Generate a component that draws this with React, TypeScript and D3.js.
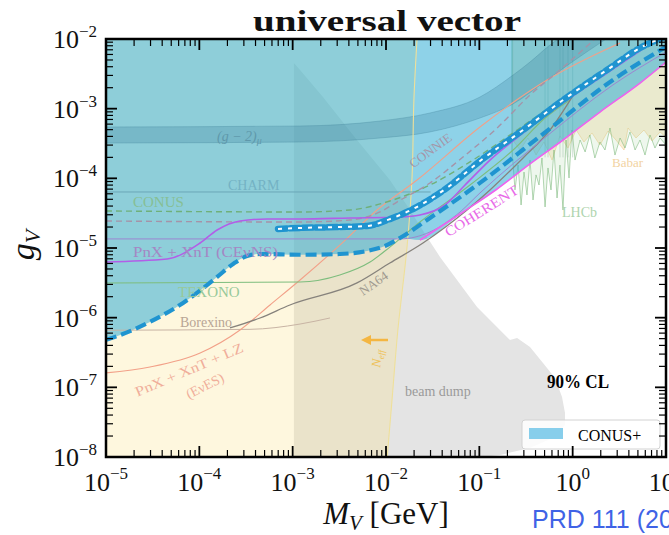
import React from "react";
import * as d3 from "d3";

type Pt = [number, number]; // [M_V in GeV, g_V]

const MASS_RANGE: Pt = [1e-5, 10];
const COUPLING_RANGE: Pt = [1e-8, 1e-2];
const massExponents = [-5, -4, -3, -2, -1, 0, 1];
const couplingExponents = [-8, -7, -6, -5, -4, -3, -2];

// CONUS+ 90% CL exclusion limit
const conusPlusLimit: Pt[] = [
  [1e-5, 4.8e-7], [1.81e-5, 6.4e-7], [2.96e-5, 8.7e-7], [6.7e-5, 1.63e-6],
  [1.55e-4, 3.84e-6], [2.3e-4, 5.9e-6], [3.25e-4, 7.7e-6], [4.47e-4, 8.2e-6],
  [1.2e-3, 8.0e-6], [3.2e-3, 8.2e-6], [6.25e-3, 9.06e-6], [9.75e-3, 1.07e-5],
  [1.41e-2, 1.39e-5], [2.96e-2, 2.7e-5], [0.1016, 8.6e-5], [0.531, 4.8e-4],
  [2.7, 2.58e-3], [10, 7.7e-3],
];

// narrow band drawn with the blue/white dashes
const conusPlusBand: Pt[] = [
  [6.97e-4, 1.88e-5], [1.2e-3, 1.94e-5], [3.2e-3, 2.0e-5], [6.25e-3, 2.07e-5],
  [1.1e-2, 2.6e-5], [1.95e-2, 3.63e-5], [4.5e-2, 7.3e-5], [0.1016, 1.77e-4],
  [0.294, 4.94e-4], [0.789, 1.33e-3], [2.33, 3.59e-3], [5.27, 7.43e-3], [10, 1.1e-2],
];

const coherentLimit: Pt[] = [
  [2.31e-2, 1.3e-5], [6.68e-2, 3.29e-5], [0.155, 7.03e-5], [0.349, 1.61e-4],
  [0.789, 3.55e-4], [1.96, 8.95e-4], [5.27, 2.33e-3], [10, 4.67e-3],
];

const gm2Upper: Pt[] = [
  [1e-5, 5.46e-4], [1.2e-3, 5.64e-4], [8.63e-3, 6.65e-4], [2.96e-2, 8.67e-4],
  [0.1016, 1.47e-3], [0.23, 3.04e-3], [0.349, 4.67e-3], [0.571, 8.2e-3], [0.697, 1e-2],
];
const gm2Lower: Pt[] = [
  [1e-5, 3.21e-4], [1.2e-3, 3.32e-4], [8.63e-3, 3.79e-4], [2.96e-2, 4.63e-4],
  [0.1016, 7.34e-4], [0.23, 1.17e-3], [0.531, 2.58e-3], [1.06, 5.0e-3], [2.28, 1e-2],
];

const beamDump: Pt[] = [
  [1.03e-3, 1e-8], [1.03e-3, 4.53e-3], [1.2e-3, 3.59e-3], [2.11e-3, 1.47e-3],
  [4.89e-3, 3.55e-4], [1.1e-2, 9.46e-5], [1.81e-2, 3.51e-5], [2.75e-2, 1.44e-5],
  [3.79e-2, 7.43e-6], [5.77e-2, 3.47e-6], [9.45e-2, 1.42e-6], [0.13, 9.27e-7],
  [0.188, 5.64e-7], [0.213, 4.78e-7], [0.254, 5.11e-7], [0.349, 3.79e-7],
  [0.481, 2.23e-7], [0.647, 1.36e-7], [0.769, 7.27e-8], [0.828, 4.28e-8],
  [0.828, 2.88e-8], [0.647, 1.94e-8], [0.349, 1.35e-8], [0.167, 1.07e-8], [0.107, 1e-8],
];

const neffEdge: Pt[] = [
  [2.15e-2, 1e-2], [1.99e-2, 1.33e-3], [1.9e-2, 1.01e-4], [1.68e-2, 1.03e-5],
  [1.34e-2, 6.65e-7], [1.16e-2, 6.58e-8], [1.03e-2, 1e-8],
];

const charmLimit: Pt[] = [[1e-5, 6.37e-5], [3e-2, 6.37e-5]];
const conusLimit: Pt[] = [
  [1e-5, 3.4e-5], [1.2e-3, 3.29e-5], [4.11e-3, 3.51e-5], [1.1e-2, 4.73e-5],
  [2.96e-2, 8.02e-5], [7.94e-2, 1.72e-4], [0.273, 5.28e-4], [0.731, 1.33e-3],
];
const connieLimit: Pt[] = [
  [1e-5, 2.44e-5], [1.2e-3, 2.36e-5], [4.11e-3, 2.52e-5], [8.63e-3, 3.29e-5],
  [1.31e-2, 4.57e-5], [2.96e-2, 8.57e-5], [6.68e-2, 2.02e-4], [0.155, 5.28e-4],
  [0.349, 1.57e-3], [0.731, 3.59e-3], [1.73, 1e-2],
];
const cevnsLimit: Pt[] = [
  [1e-5, 6.3e-6], [4.51e-5, 6.95e-6], [1.02e-4, 1.18e-5], [1.55e-4, 1.81e-5],
  [2.73e-4, 2.44e-5], [5.31e-4, 2.61e-5], [1.2e-3, 2.61e-5], [4.11e-3, 2.7e-5],
  [1.41e-2, 2.79e-5], [2.31e-2, 2.98e-5], [4.28e-2, 4.14e-5], [7.03e-2, 8.02e-5],
  [0.13, 1.83e-4], [0.294, 4.48e-4], [0.789, 1.21e-3], [2.33, 3.25e-3], [6.75, 8.48e-3],
];
const cevnsAltLimit: Pt[] = [
  [1e-5, 1.35e-5], [1.41e-2, 1.35e-5], [2.96e-2, 1.7e-5], [6.21e-2, 3.29e-5],
  [0.1016, 6.17e-5], [0.531, 4.06e-4], [2.7, 2.19e-3], [10, 6.5e-3],
];
const texonoLimit: Pt[] = [
  [1e-5, 3.15e-6], [1.2e-3, 3.25e-6], [3.2e-3, 4.1e-6], [6.75e-3, 6.3e-6],
  [1.1e-2, 1.03e-5], [2.31e-2, 2.36e-5], [7.94e-2, 8.02e-5], [0.23, 2.55e-4],
  [0.506, 7.34e-4], [0.935, 1.33e-3],
];
const na64Limit: Pt[] = [
  [2.13e-4, 7.11e-7], [4.47e-4, 9.89e-7], [9.35e-4, 1.52e-6], [4.89e-3, 3.15e-6],
  [1.1e-2, 6.09e-6], [2.49e-2, 1.18e-5], [7.38e-2, 3.51e-5], [0.13, 6.81e-5],
  [0.294, 1.96e-4], [0.571, 4.94e-4], [1.0, 1.52e-3],
];
const borexinoLimit: Pt[] = [[1e-5, 6.6e-7], [3.49e-4, 6.8e-7], [1.2e-3, 8.1e-7], [2.51e-3, 9.9e-7]];
const evesLimit: Pt[] = [
  [1e-5, 1.61e-7], [2.96e-5, 1.96e-7], [1.02e-4, 3.11e-7], [2.73e-4, 6.65e-7],
  [5.72e-4, 1.52e-6], [1.2e-3, 3.47e-6], [3.2e-3, 1.1e-5], [8.02e-3, 3.51e-5],
  [2.15e-2, 9.46e-5], [0.1016, 5.46e-4], [0.531, 2.58e-3], [3.22, 8.77e-3],
];

const lhcbEdge: Pt[] = [
  [0.224, 2.55e-4], [0.241, 6.81e-5], [0.26, 1.55e-4], [0.28, 4.14e-5], [0.301, 1.23e-4],
  [0.324, 5.77e-5], [0.349, 1.83e-4], [0.376, 4.89e-5], [0.405, 1.12e-4], [0.436, 8.02e-5],
  [0.469, 1.96e-4], [0.506, 3.88e-5], [0.544, 1.41e-4], [0.586, 6.81e-5], [0.631, 2.55e-4],
  [0.68, 5.22e-5], [0.731, 1.55e-4], [0.788, 3.51e-5], [0.849, 3.55e-4], [0.914, 1.01e-4],
  [0.984, 4.94e-4], [1.06, 1.83e-4], [1.2, 3.55e-4], [1.36, 2.39e-4], [1.53, 4.19e-4],
  [1.73, 1.96e-4], [1.96, 3.32e-4], [2.22, 2.55e-4], [2.51, 5.28e-4], [2.84, 2.16e-4],
  [3.22, 3.79e-4], [3.64, 2.72e-4], [4.11, 4.62e-4], [4.66, 2.55e-4], [5.27, 3.55e-4],
  [5.96, 2.16e-4], [6.74, 4.19e-4], [7.62, 2.72e-4], [8.63, 3.79e-4], [10, 3.01e-4],
];
const babarEdge: Pt[] = [
  [0.228, 3.55e-4], [0.273, 2.55e-4], [0.332, 3.79e-4], [0.405, 2.16e-4], [0.493, 3.32e-4],
  [0.601, 1.83e-4], [0.731, 4.06e-4], [0.891, 2.72e-4], [1.09, 4.94e-4], [1.32, 3.32e-4],
  [1.61, 4.48e-4], [1.96, 3.01e-4], [2.39, 4.78e-4], [2.91, 3.55e-4], [3.55, 2.55e-4],
  [3.92, 5.28e-4], [4.77, 3.79e-4], [5.81, 4.94e-4], [7.08, 3.44e-4], [8.63, 4.62e-4], [10, 3.92e-4],
];
const resonanceMasses = [0.224, 0.506, 0.544, 0.731, 0.788, 0.891, 1.0];

const SERIF = "'Liberation Serif', 'DejaVu Serif', serif";
const W = 669;
const H = 535;
const LEFT = 106;
const RIGHT = 666;
const TOP = 39;
const BOTTOM = 457;

const xs = d3.scaleLog().domain(MASS_RANGE).range([LEFT, RIGHT]);
const ys = d3.scaleLog().domain(COUPLING_RANGE).range([BOTTOM, TOP]);

const smooth = d3.line<Pt>().x((d) => xs(d[0])).y((d) => ys(d[1])).curve(d3.curveMonotoneX);
const curved = d3.line<Pt>().x((d) => xs(d[0])).y((d) => ys(d[1])).curve(d3.curveCatmullRom.alpha(0.5));
const straight = d3.line<Pt>().x((d) => xs(d[0])).y((d) => ys(d[1]));
const cont = (s: string | null) => (s ?? "").replace(/^M/, "L");

const sup = (e: number) => (e < 0 ? "\u2212" + -e : String(e));

export default function App() {
  const xTicks = xs.ticks();
  const yTicks = ys.ticks();
  const isMajor = (v: number) => Math.abs(Math.log10(v) - Math.round(Math.log10(v))) < 1e-6;

  const cyanPath =
    smooth([...conusPlusLimit.filter((p) => p[0] <= 0.0141), ...coherentLimit]) +
    `L${xs(10)},${ys(1e-2)}L${xs(1e-5)},${ys(1e-2)}Z`;
  const gm2Path = smooth(gm2Lower) + cont(smooth([...gm2Upper].reverse())) + "Z";
  const neffPath =
    `M${xs(1e-5)},${ys(1e-2)}` + cont(curved(neffEdge)) + `L${xs(1e-5)},${ys(1e-8)}Z`;
  const lhcbPath =
    `M${xs(lhcbEdge[0][0])},${ys(1e-2)}` + cont(straight(lhcbEdge)) + `L${xs(10)},${ys(1e-2)}Z`;
  const babarPath =
    `M${xs(babarEdge[0][0])},${ys(1e-2)}` + cont(straight(babarEdge)) + `L${xs(10)},${ys(1e-2)}Z`;

  const thinLines: { pts: Pt[]; color: string; w: number; dash?: string }[] = [
    { pts: charmLimit, color: "#6aa6b8", w: 1 },
    { pts: borexinoLimit, color: "#c8b4a4", w: 1 },
    { pts: evesLimit, color: "#f2a088", w: 1.1 },
    { pts: texonoLimit, color: "#7dbd7d", w: 1.1 },
    { pts: na64Limit, color: "#86827c", w: 1.3 },
    { pts: conusLimit, color: "#6fb07a", w: 1.4, dash: "6 4" },
    { pts: connieLimit, color: "#a593a8", w: 1.4, dash: "6 4" },
    { pts: cevnsAltLimit, color: "#9c86d0", w: 1 },
    { pts: cevnsLimit, color: "#b25ee8", w: 1.6 },
    { pts: coherentLimit, color: "#ee62ee", w: 1.6 },
  ];

  return (
    <svg width={W} height={H} style={{ position: "absolute", left: 0, top: 0, background: "#fff" }}>
      <defs>
        <clipPath id="plotArea">
          <rect x={LEFT} y={TOP} width={RIGHT - LEFT} height={BOTTOM - TOP} />
        </clipPath>
        <marker id="arrowHead" viewBox="0 0 10 10" refX="5" refY="5" markerWidth="4" markerHeight="4" orient="auto">
          <path d="M0,0L10,5L0,10Z" fill="#f4b642" />
        </marker>
      </defs>

      <rect x={LEFT} y={TOP} width={RIGHT - LEFT} height={BOTTOM - TOP} fill="#fff" />

      <g clipPath="url(#plotArea)">
        <path d={straight(beamDump) + "Z"} fill="#e4e4e4" />
        <path d={babarPath} fill="#f6d9a0" fillOpacity={0.4} stroke="#f0c27a" strokeWidth={0.6} strokeOpacity={0.8} />
        <path d={lhcbPath} fill="#9fd09a" fillOpacity={0.18} stroke="#68ae68" strokeWidth={0.7} strokeOpacity={0.7} />
        {resonanceMasses.map((m) => (
          <line key={m} x1={xs(m)} x2={xs(m)} y1={ys(1e-2)} y2={ys(2e-4)} stroke="#7aa88a" strokeOpacity={0.35} strokeWidth={1} />
        ))}
        <path d={neffPath} fill="#fbdf7b" fillOpacity={0.25} />
        <path d={cyanPath} fill="#32add5" fillOpacity={0.55} />
        <path d={gm2Path} fill="#286e8c" fillOpacity={0.22} stroke="#3f8098" strokeOpacity={0.3} strokeWidth={1} />
        <path d={curved(neffEdge) ?? ""} fill="none" stroke="#efe09a" strokeWidth={1.1} />

        {thinLines.map((l, i) => (
          <path key={i} d={smooth(l.pts) ?? ""} fill="none" stroke={l.color} strokeWidth={l.w} strokeDasharray={l.dash} />
        ))}

        <path d={smooth(conusPlusLimit) ?? ""} fill="none" stroke="#1f94d0" strokeWidth={4.2} strokeDasharray="11 5" />
        <path d={smooth(conusPlusBand) ?? ""} fill="none" stroke="#1f94d0" strokeWidth={6.5} strokeDasharray="9 3.5" strokeLinecap="round" />
        <path d={smooth(conusPlusBand) ?? ""} fill="none" stroke="#ffffff" strokeWidth={2} strokeDasharray="4 6" />

        {/* curve labels */}
        <g fontFamily={SERIF}>
          <text x={217} y={141} fontSize={14} fill="#5f98ab" fontStyle="italic">
            (g − 2)<tspan fontSize={10} dy={3}>μ</tspan>
          </text>
          <text x={228} y={190} fontSize={14} fill="#74b2c4">CHARM</text>
          <text x={133} y={207} fontSize={15} fill="#86bf95">CONUS</text>
          <text x={133} y={257} fontSize={15} fill="#a487c4" textLength={145} lengthAdjust="spacingAndGlyphs">PnX + XnT (CEνNS)</text>
          <text x={178} y={297} fontSize={15} fill="#98c99a">TEXONO</text>
          <text x={180} y={327} fontSize={14} fill="#b8a595">Borexino</text>
          <text transform="translate(191,374) rotate(-23)" textAnchor="middle" fontSize={14} fill="#f0ae9a" textLength={116} lengthAdjust="spacingAndGlyphs">PnX + XnT + LZ</text>
          <text transform="translate(207,390) rotate(-27)" textAnchor="middle" fontSize={14} fill="#f0ae9a">(EνES)</text>
          <text transform="translate(376,287) rotate(-35)" textAnchor="middle" fontSize={13} fill="#a09a90">NA64</text>
          <text transform="translate(433,154) rotate(-36)" textAnchor="middle" fontSize={13} fill="#a596a8">CONNIE</text>
          <text transform="translate(484,215) rotate(-32)" textAnchor="middle" fontSize={14} fill="#e86ae8" textLength={84} lengthAdjust="spacingAndGlyphs">COHERENT</text>
          <text x={405} y={396} fontSize={14} fill="#9a9a9a">beam dump</text>
          <text x={562} y={217} fontSize={14} fill="#aed4ae">LHCb</text>
          <text x={612} y={167} fontSize={13} fill="#f2d3a2">Babar</text>
          <text transform="translate(381,359) rotate(-85)" textAnchor="middle" fontSize={13} fill="#eec25a" fontStyle="italic">
            N<tspan fontSize={9} dy={3}>eff</tspan>
          </text>
        </g>
        <line x1={388} y1={340} x2={366} y2={340} stroke="#f4b642" strokeWidth={2.5} markerEnd="url(#arrowHead)" />

        <text x={547} y={388} fontFamily={SERIF} fontWeight="bold" fontSize={18} textLength={62} lengthAdjust="spacingAndGlyphs">90% CL</text>

        {/* legend */}
        <rect x={522} y={420} width={138} height={29} rx={3} fill="#ffffff" fillOpacity={0.85} stroke="#d2d2d2" />
        <rect x={529} y={428} width={34} height={11} fill="#87ceeb" />
        <text x={578} y={441} fontFamily={SERIF} fontSize={16}>CONUS+</text>
      </g>

      {/* frame and ticks */}
      <g stroke="#000">
        {xTicks.map((t, i) => {
          const len = isMajor(t) ? 11 : 7;
          const sw = isMajor(t) ? 1.8 : 1.2;
          return (
            <g key={"x" + i} strokeWidth={sw}>
              <line x1={xs(t)} x2={xs(t)} y1={BOTTOM} y2={BOTTOM - len} />
              <line x1={xs(t)} x2={xs(t)} y1={TOP} y2={TOP + len} />
            </g>
          );
        })}
        {yTicks.map((t, i) => {
          const len = isMajor(t) ? 11 : 7;
          const sw = isMajor(t) ? 1.8 : 1.2;
          return (
            <g key={"y" + i} strokeWidth={sw}>
              <line x1={LEFT} x2={LEFT + len} y1={ys(t)} y2={ys(t)} />
              <line x1={RIGHT} x2={RIGHT - len} y1={ys(t)} y2={ys(t)} />
            </g>
          );
        })}
        <rect x={LEFT} y={TOP} width={RIGHT - LEFT} height={BOTTOM - TOP} fill="none" strokeWidth={2.5} />
      </g>

      <g fontFamily={SERIF} fill="#111">
        {massExponents.map((e) => (
          <text key={e} x={xs(Math.pow(10, e))} y={491} textAnchor="middle" fontSize={26}>
            10<tspan fontSize={17} dy={-12}>{sup(e)}</tspan>
          </text>
        ))}
        {couplingExponents.map((e) => (
          <text key={e} x={97} y={ys(Math.pow(10, e)) + 9} textAnchor="end" fontSize={26}>
            10<tspan fontSize={17} dy={-11}>{sup(e)}</tspan>
          </text>
        ))}
        <text x={387} y={31} textAnchor="middle" fontSize={30} fontWeight="bold" textLength={268} lengthAdjust="spacingAndGlyphs">
          universal vector
        </text>
        <text x={386} y={524} textAnchor="middle" fontSize={31}>
          <tspan fontStyle="italic">M</tspan>
          <tspan fontStyle="italic" fontSize={21} dy={6}>V</tspan>
          <tspan dy={-6}> [GeV]</tspan>
        </text>
        <text transform="translate(34,245) rotate(-90)" textAnchor="middle" fontSize={34}>
          <tspan fontStyle="italic">g</tspan>
          <tspan fontStyle="italic" fontSize={22} dy={6}>V</tspan>
        </text>
      </g>
      <text x={532} y={528} fontFamily="'Liberation Sans', Arial, sans-serif" fontSize={25} fill="#3f63e6">
        PRD 111 (2025)
      </text>
    </svg>
  );
}
